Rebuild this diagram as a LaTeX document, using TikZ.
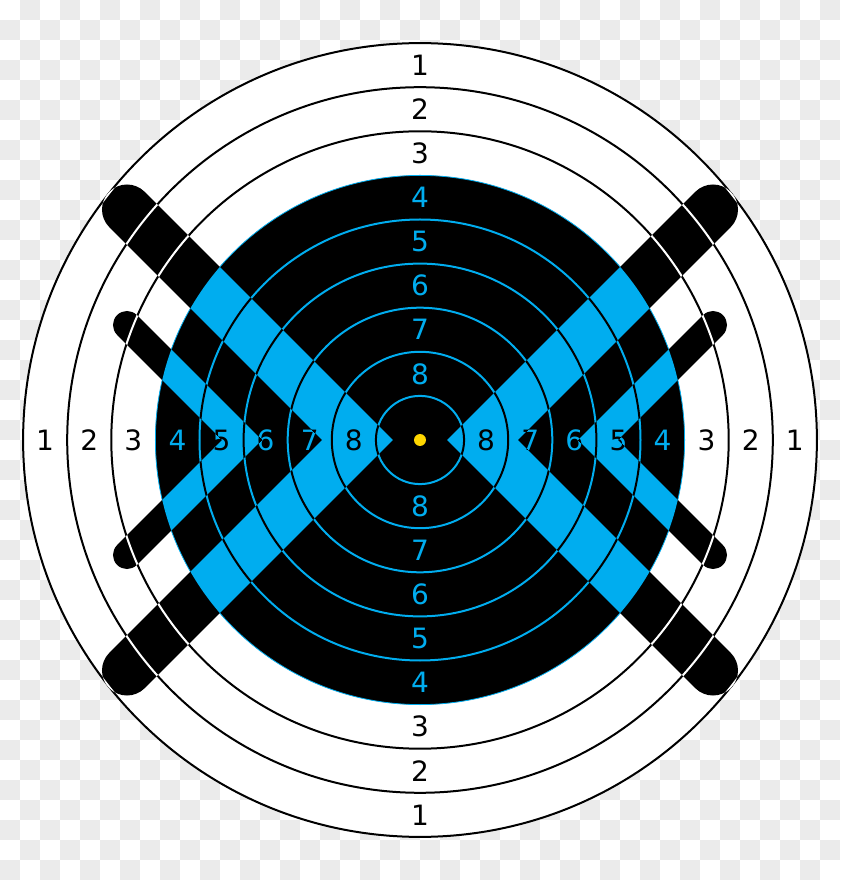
\documentclass[tikz,border=0pt]{standalone}
\usepackage{fontspec}
\setmainfont{DejaVu Sans}
\definecolor{tblue}{RGB}{0,173,239}
\definecolor{chk}{RGB}{235,235,235}
\definecolor{dotc}{RGB}{255,215,0}
% chevron outline: #1 = side sign (1 left, -1 right), #2 = tip centre distance, #3 = half width, #4 = arm reach
\newcommand{\chevron}[4]{%
 ({#1*(-#2+#3*1.41421)},0) -- ({#1*(-#2-#4+#3*0.70711)},{#4+#3*0.70711})
 arc[start angle={90-45*#1}, end angle={90+135*#1}, radius=#3]
 -- ({#1*(-#2-#3*1.41421)},0) -- ({#1*(-#2-#4-#3*0.70711)},{-#4+#3*0.70711})
 arc[start angle={90+45*#1}, end angle={90+225*#1}, radius=#3] -- cycle }
\begin{document}
\begin{tikzpicture}[x=1pt,y=1pt,
  ringline/.style={line width=2pt},
  lab/.style={font=\fontsize{28}{28}\selectfont, inner sep=0pt},
]
\useasboundingbox (-420,-440) rectangle (420,440);
% transparency checkerboard
\foreach \i in {0,...,41}{\foreach \j in {0,...,43}{%
  \pgfmathtruncatemacro\odd{mod(\i+\j,2)}%
  \ifnum\odd=1 \fill[chk] ({\i*20-420},{440-\j*20}) rectangle ++(20,-20);\fi
}}
% base target
\fill[white] (0,0) circle[radius=396.9];
\fill[black] (0,0) circle[radius=264.6];
\draw[tblue,line width=0.8pt] (0,0) circle[radius=264.6];
\foreach \k in {7,8,9} \draw[ringline,black] (0,0) circle[radius={44.1*\k}];
\foreach \k in {1,...,5} \draw[ringline,tblue] (0,0) circle[radius={44.1*\k}];
% labels
\foreach \n in {1,2,3}{
  \pgfmathsetmacro\rr{44.1*(9.5-\n)}
  \node[lab,text=black] (t\n) at (0,\rr) {\n};
  \node[lab,text=black] (b\n) at (0,-\rr) {\n};
  \node[lab,text=black] (l\n) at (-\rr,0) {\n};
  \node[lab,text=black] (r\n) at (\rr,0) {\n};
}
\foreach \n in {4,...,8}{
  \pgfmathsetmacro\rr{44.1*(9.5-\n)}
  \node[lab,text=tblue] (t\n) at (0,\rr) {\n};
  \node[lab,text=tblue] (b\n) at (0,-\rr) {\n};
  \node[lab,text=tblue] (l\n) at (-\rr,0) {\n};
  \node[lab,text=tblue] (r\n) at (\rr,0) {\n};
}
% chevron bars, drawn in inverted colours
\begin{scope}
  \clip \chevron{1}{62.5}{25}{230.5} \chevron{-1}{62.5}{25}{230.5}
        \chevron{1}{178}{14}{115} \chevron{-1}{178}{14}{115};
  \fill[black] (-420,-440) rectangle (420,440);
  \foreach \k in {7,8,9} \draw[ringline,white] (0,0) circle[radius={44.1*\k}];
  \fill[tblue] (0,0) circle[radius=264.6];
  \foreach \k in {1,...,5} \draw[ringline,black] (0,0) circle[radius={44.1*\k}];
  \foreach \n in {4,...,8}{
    \pgfmathsetmacro\rr{44.1*(9.5-\n)}
    \node[lab,text=black] (li\n) at (-\rr,0) {\n};
    \node[lab,text=black] (ri\n) at (\rr,0) {\n};
  }
\end{scope}
% centre dot
\fill[dotc] (0,0) circle[radius=6];
\end{tikzpicture}
\end{document}
